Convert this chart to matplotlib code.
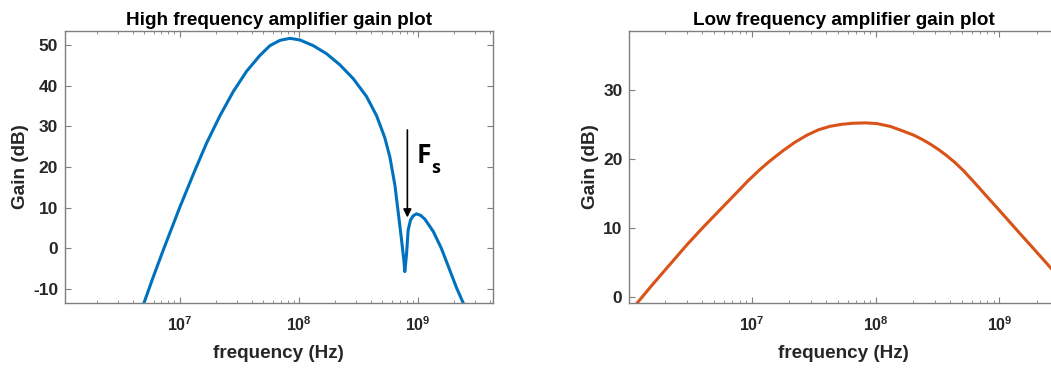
import numpy as np
import matplotlib.pyplot as plt

plt.rcParams['font.family'] = 'Liberation Sans'
plt.rcParams['font.weight'] = 'bold'
plt.rcParams['axes.unicode_minus'] = False
plt.rcParams['mathtext.fontset'] = 'custom'
plt.rcParams['mathtext.bf'] = 'Liberation Sans:bold'
plt.rcParams['mathtext.rm'] = 'Liberation Sans:bold'

# values: log10(frequency) and gain in dB
hf_logf = [6.698, 6.776, 6.860, 6.930, 7.000, 7.070, 7.126, 7.224, 7.336, 7.447,
           7.559, 7.671, 7.755, 7.839, 7.923, 8.007, 8.119, 8.231, 8.342, 8.454,
           8.566, 8.650, 8.719, 8.762, 8.804, 8.831, 8.860, 8.879, 8.887, 8.902,
           8.915, 8.935, 8.957, 8.985, 9.020, 9.055, 9.125, 9.194, 9.260, 9.320,
           9.377]
hf_gain = [-13.4, -7.0, -0.4, 4.9, 10.2, 15.2, 19.2, 25.9, 32.6, 38.5,
           43.5, 47.4, 49.8, 51.1, 51.6, 51.2, 49.8, 47.8, 45.1, 41.7,
           37.3, 32.6, 27.2, 22.4, 15.5, 9.0, 2.0, -2.9, -5.7, -1.2,
           4.5, 7.0, 8.0, 8.5, 8.1, 7.2, 4.2, 0.0, -5.0, -9.6,
           -13.4]

lf_logf = [6.076, 6.205, 6.340, 6.475, 6.609, 6.744, 6.879, 6.970, 7.067, 7.148,
           7.255, 7.350, 7.444, 7.540, 7.632, 7.730, 7.821, 7.920, 8.010, 8.117,
           8.210, 8.305, 8.372, 8.440, 8.508, 8.575, 8.642, 8.709, 8.776, 8.844,
           8.911, 8.979, 9.046, 9.113, 9.180, 9.248, 9.300, 9.355, 9.417]
lf_gain = [-0.87, 1.9, 4.7, 7.5, 10.1, 12.6, 15.1, 16.8, 18.45, 19.7,
           21.2, 22.4, 23.4, 24.2, 24.7, 25.0, 25.15, 25.2, 25.1, 24.7,
           24.1, 23.45, 22.85, 22.15, 21.35, 20.45, 19.45, 18.3, 17.0, 15.65,
           14.3, 12.95, 11.6, 10.25, 8.9, 7.55, 6.5, 5.4, 4.15]

xtick_vals = [1e7, 1e8, 1e9]
xtick_labels = [r'$\mathbf{10^{7}}$', r'$\mathbf{10^{8}}$', r'$\mathbf{10^{9}}$']
hf_yticks = [-10, 0, 10, 20, 30, 40, 50]
lf_yticks = [0, 10, 20, 30]

fs_freq = 8.1e8        # marker arrow for F_s
fs_arrow = (29.1, 7.6)

text_col = '#262626'
spine_col = '#7f7f7f'

fig = plt.figure(figsize=(10.51, 3.69), dpi=100)
ax1 = fig.add_axes([0.0618, 0.1789, 0.4072, 0.7371])
ax2 = fig.add_axes([0.5988, 0.1789, 0.4075, 0.7371])


def style(ax, yticks):
    ax.set_xscale('log')
    ax.set_xticks(xtick_vals)
    ax.set_xticklabels(xtick_labels)
    ax.set_yticks(yticks)
    ax.tick_params(which='both', direction='in', top=True, right=True,
                   colors=spine_col, labelcolor=text_col)
    ax.tick_params(which='major', length=4, width=0.8)
    ax.tick_params(which='minor', length=2.5, width=0.6)
    ax.tick_params(axis='y', pad=5, labelsize=12.5)
    ax.tick_params(axis='x', pad=9, labelsize=11.5)
    for s in ax.spines.values():
        s.set_color(spine_col)
        s.set_linewidth(1.0)
    ax.set_xlabel('frequency (Hz)', fontsize=13.6, fontweight='bold',
                  color=text_col, labelpad=8)
    ax.set_ylabel('Gain (dB)', fontsize=13.6, fontweight='bold',
                  color=text_col, labelpad=3)


ax1.plot(10 ** np.array(hf_logf), hf_gain, color='#0072BD', lw=2.2,
         solid_joinstyle='round')
ax1.set_xlim(1.084e6, 4.23e9)
ax1.set_ylim(-13.4, 53.4)
style(ax1, hf_yticks)
ax1.set_title('High frequency amplifier gain plot', fontsize=13.6,
              fontweight='bold', color='black', pad=4)
ax1.annotate('', xy=(fs_freq, fs_arrow[1]), xytext=(fs_freq, fs_arrow[0]),
             arrowprops=dict(arrowstyle='-|>', color='black', lw=1.2,
                             mutation_scale=12, shrinkA=0, shrinkB=0))
ax1.text(9.7e8, 21.0, 'F', fontsize=19, family='Open Sans', weight='bold',
         color='black', va='baseline')
ax1.text(1.27e9, 18.6, 's', fontsize=13, family='Open Sans', weight='bold',
         color='black', va='baseline')

ax2.plot(10 ** np.array(lf_logf), lf_gain, color='#D95319', lw=2.2,
         solid_joinstyle='round')
ax2.set_xlim(1.03e6, 2.95e9)
ax2.set_ylim(-0.87, 38.5)
style(ax2, lf_yticks)
ax2.set_title('Low frequency amplifier gain plot', fontsize=13.6,
              fontweight='bold', color='black', pad=4)

fig.savefig('out.png', dpi=100)
